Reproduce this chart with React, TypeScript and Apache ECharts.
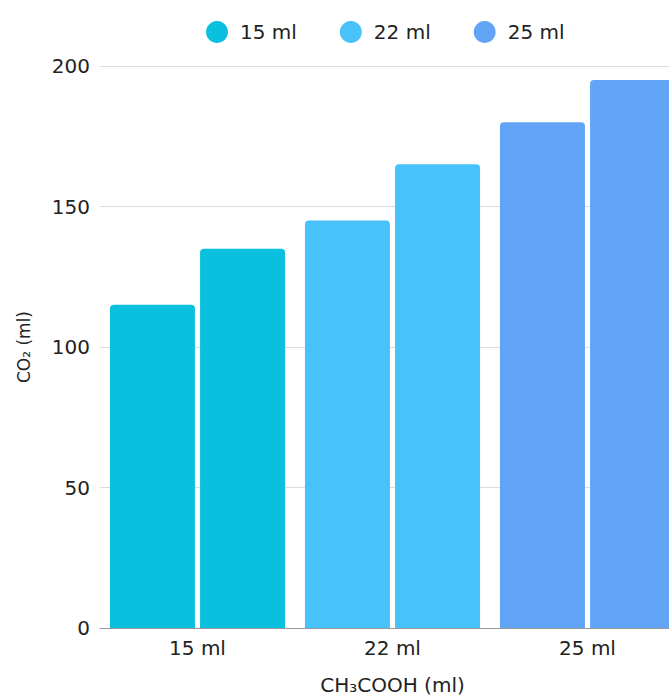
import React, { useEffect, useRef } from "react";
import * as echarts from "echarts";

const categories = ["15 ml", "22 ml", "25 ml"];
const firstBar = [115, 145, 180];
const secondBar = [135, 165, 195];
const legendNames = ["15 ml", "22 ml", "25 ml"];
const colors = ["#0bc0df", "#48c2fb", "#62a5f7"];
const yTicks = { min: 0, max: 200, interval: 50 };

const FONT = "'DejaVu Sans', 'Noto Sans', sans-serif";

export default function App() {
  const ref = useRef<HTMLDivElement>(null);
  useEffect(() => {
    if (!ref.current) return;
    const chart = echarts.init(ref.current, null, { renderer: "svg" });
    const barSeries = [firstBar, secondBar].map((vals, k) => ({
      name: "bar" + k,
      type: "bar",
      barWidth: 85,
      barGap: "6%",
      data: vals.map((v, i) => ({ value: v, itemStyle: { color: colors[i] } })),
      itemStyle: { borderRadius: [4, 4, 0, 0] },
    }));
    const legendSeries = legendNames.map((n, i) => ({
      name: n,
      type: "line",
      data: [],
      itemStyle: { color: colors[i] },
      lineStyle: { color: colors[i] },
    }));
    chart.setOption({
      animation: false,
      textStyle: { fontFamily: FONT },
      legend: {
        data: legendNames,
        icon: "circle",
        left: 201,
        top: 16,
        itemWidth: 22,
        itemHeight: 22,
        itemGap: 43,
        textStyle: { fontSize: 20, color: "#222", fontFamily: FONT, padding: [0, 0, 0, 7] },
      },
      grid: { left: 100, top: 66, right: 0, bottom: 69, containLabel: false },
      xAxis: {
        type: "category",
        data: categories,
        axisLine: { show: true, lineStyle: { color: "#999", width: 1 } },
        axisTick: { show: false },
        axisLabel: { fontSize: 20, color: "#222", margin: 10, fontFamily: FONT },
        name: "CH₃COOH (ml)",
        nameLocation: "middle",
        nameGap: 47,
        nameTextStyle: { fontSize: 20, color: "#222", fontFamily: FONT },
      },
      yAxis: {
        type: "value",
        min: yTicks.min,
        max: yTicks.max,
        interval: yTicks.interval,
        axisLine: { show: false },
        axisTick: { show: false },
        splitLine: { lineStyle: { color: "#dcdcdc", width: 1 } },
        axisLabel: { fontSize: 20, color: "#222", margin: 10, fontFamily: FONT },
        name: "CO₂ (ml)",
        nameLocation: "middle",
        nameRotate: 90,
        nameGap: 68,
        nameTextStyle: { fontSize: 17, color: "#222", fontFamily: FONT },
      },
      series: [...barSeries, ...legendSeries],
    });
    return () => chart.dispose();
  }, []);
  return (
    <div
      style={{ position: "fixed", left: 0, top: 0, width: 669, height: 700, overflow: "hidden", background: "#fff" }}
    >
      <div ref={ref} style={{ width: 685, height: 700 }} />
    </div>
  );
}
